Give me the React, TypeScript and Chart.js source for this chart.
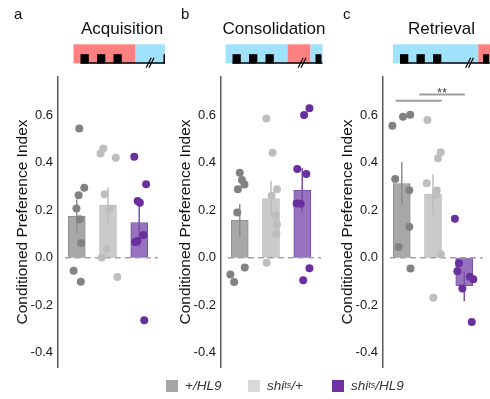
import React, { useEffect, useRef } from 'react';
import { Chart, registerables } from 'chart.js';

Chart.register(...registerables);

// ---------- data ----------
const groupNames = ['+/HL9', 'shits/+', 'shits/HL9'];
const yTickValues = [-0.4, -0.2, 0, 0.2, 0.4, 0.6];

// Acquisition
const acqMeans = [0.175, 0.22, 0.148];
const acqSem = [0.07, 0.075, 0.1];
const acqG1 = [0.543, 0.294, 0.263, 0.207, 0.162, 0.062, -0.055, -0.101];
const acqG1Jit = [0.08, 0.24, 0.06, -0.01, 0.1, 0.14, -0.1, 0.13];
const acqG2 = [0.459, 0.438, 0.42, 0.267, 0.206, 0.038, 0.001, -0.081];
const acqG2Jit = [-0.15, -0.24, 0.25, -0.11, 0.05, -0.04, -0.2, 0.3];
const acqG3 = [0.424, 0.309, 0.238, 0.231, 0.095, 0.07, 0.066, -0.263];
const acqG3Jit = [-0.16, 0.22, -0.05, 0.02, 0.13, -0.06, -0.13, 0.16];

// Consolidation
const conMeans = [0.158, 0.248, 0.284];
const conSem = [0.068, 0.075, 0.093];
const conG1 = [0.357, 0.327, 0.308, 0.288, 0.19, -0.041, -0.071, -0.102];
const conG1Jit = [0.0, 0.07, 0.15, -0.06, -0.08, 0.16, -0.3, -0.18];
const conG2 = [0.585, 0.441, 0.288, 0.26, 0.176, 0.141, 0.102, -0.021];
const conG2Jit = [-0.15, 0.05, 0.19, 0.02, 0.14, 0.19, 0.17, -0.14];
const conG3 = [0.629, 0.6, 0.373, 0.352, 0.228, 0.227, -0.045, -0.095];
const conG3Jit = [0.23, 0.06, -0.16, 0.13, -0.18, -0.05, 0.23, 0.03];

// Retrieval
const retMeans = [0.312, 0.267, -0.119];
const retSem = [0.09, 0.084, 0.063];
const retG1 = [0.601, 0.593, 0.555, 0.331, 0.284, 0.13, 0.045, -0.046];
const retG1Jit = [0.27, 0.04, -0.3, -0.21, 0.24, 0.24, -0.1, 0.28];
const retG2 = [0.579, 0.443, 0.418, 0.313, 0.283, 0.264, 0.014, -0.169];
const retG2Jit = [-0.18, 0.25, 0.16, -0.2, 0.12, 0.09, 0.25, 0.01];
const retG3 = [0.164, -0.024, -0.057, -0.08, -0.091, -0.13, -0.271];
const retG3Jit = [-0.3, -0.17, -0.22, 0.18, 0.29, -0.06, 0.24];

// significance brackets (retrieval)
const sigFrom = [-0.2, 0.56];
const sigTo = [1.28, 2.02];
const sigY = [0.66, 0.686];
const sigLabel = '**';
const sigLabelY = 0.703;

// ---------- styles ----------
const FONT = "'Liberation Sans', Arial, Helvetica, sans-serif";
const barFill = ['#a8a8a8', '#cacaca', '#9673bd'];
const barEdge = ['#8e8e8e', '#bcbcbc', '#7a4fab'];
const dotColor = ['#828282', '#bebebe', '#6a2f9f'];
const legendColor = ['#a6a6a6', '#d9d9d9', '#7030a0'];
const PINK = '#ff8080';
const BLUE = '#a0e2fc';

type Seg = [number, number, string];

const panels = [
  {
    left: 0, letter: 'a', letterX: 14, title: 'Acquisition', titleX: 122,
    segs: [[0, 62, PINK], [62, 97, BLUE]] as Seg[],
    means: acqMeans, sems: acqSem,
    pts: [[acqG1, acqG1Jit], [acqG2, acqG2Jit], [acqG3, acqG3Jit]],
    sig: false,
  },
  {
    left: 163, letter: 'b', letterX: 18, title: 'Consolidation', titleX: 111,
    segs: [[0, 62, BLUE], [62, 85, PINK], [85, 97, BLUE]] as Seg[],
    means: conMeans, sems: conSem,
    pts: [[conG1, conG1Jit], [conG2, conG2Jit], [conG3, conG3Jit]],
    sig: false,
  },
  {
    left: 325, letter: 'c', letterX: 18, title: 'Retrieval', titleX: 116.5,
    segs: [[0, 85.3, BLUE], [85.3, 97, PINK]] as Seg[],
    means: retMeans, sems: retSem,
    pts: [[retG1, retG1Jit], [retG2, retG2Jit], [retG3, retG3Jit]],
    sig: true,
  },
];

type PanelT = typeof panels[number];

function makePlugin(p: PanelT) {
  return {
    id: 'deco' + p.letter,
    afterDatasetDraw(chart: any, args: any) {
      if (args.index !== 0) return;
      const { ctx, chartArea } = chart;
      const xs = chart.scales.x;
      const ys = chart.scales.y;
      ctx.save();
      // error bars
      p.means.forEach((m: number, i: number) => {
        const px = xs.getPixelForValue(i);
        ctx.strokeStyle = barEdge[i];
        ctx.lineWidth = 1.5;
        ctx.beginPath();
        ctx.moveTo(px, ys.getPixelForValue(m - p.sems[i]));
        ctx.lineTo(px, ys.getPixelForValue(m + p.sems[i]));
        ctx.stroke();
      });
      // zero line
      const y0 = ys.getPixelForValue(0);
      ctx.strokeStyle = '#a3a3a3';
      ctx.lineWidth = 1.5;
      ctx.setLineDash([6, 4]);
      ctx.beginPath();
      ctx.moveTo(xs.getPixelForValue(-0.38), y0);
      ctx.lineTo(chartArea.right, y0);
      ctx.stroke();
      ctx.restore();
    },
    afterDraw(chart: any) {
      const { ctx } = chart;
      const xs = chart.scales.x;
      const ys = chart.scales.y;
      ctx.save();
      ctx.fillStyle = '#111';
      ctx.textBaseline = 'alphabetic';
      ctx.textAlign = 'left';
      ctx.font = `15px ${FONT}`;
      ctx.fillText(p.letter, p.letterX, 19);
      ctx.textAlign = 'center';
      ctx.font = `17px ${FONT}`;
      ctx.fillText(p.title, p.titleX, 34);
      // schematic
      const L = p.titleX - 48.5;
      const T = 44.3;
      const H = 19;
      p.segs.forEach(([a, b, c]) => {
        ctx.fillStyle = c;
        ctx.fillRect(L + a, T, b - a, H);
      });
      ctx.fillStyle = '#000';
      [[7, 8.3], [23.5, 8.3], [40, 8.3], [90, 6]].forEach(([o, w]) => {
        ctx.fillRect(L + o, 54.2, w, 9.3);
      });
      ctx.strokeStyle = '#000';
      ctx.lineWidth = 1.4;
      ctx.beginPath();
      ctx.moveTo(L + 7, 63);
      ctx.lineTo(L + 97, 63);
      ctx.stroke();
      ctx.lineWidth = 1.2;
      ctx.beginPath();
      ctx.moveTo(L + 72.7, 67.7);
      ctx.lineTo(L + 77.7, 57.7);
      ctx.moveTo(L + 75.5, 67.7);
      ctx.lineTo(L + 80.5, 57.7);
      ctx.stroke();
      // significance
      if (p.sig) {
        ctx.strokeStyle = '#9e9e9e';
        ctx.lineWidth = 2;
        sigFrom.forEach((x1, i) => {
          const py = ys.getPixelForValue(sigY[i]);
          ctx.beginPath();
          ctx.moveTo(xs.getPixelForValue(x1), py);
          ctx.lineTo(xs.getPixelForValue(sigTo[i]), py);
          ctx.stroke();
        });
        ctx.fillStyle = '#444';
        ctx.font = `13px ${FONT}`;
        ctx.textAlign = 'center';
        ctx.textBaseline = 'alphabetic';
        ctx.fillText(sigLabel, xs.getPixelForValue((sigFrom[1] + sigTo[1]) / 2), ys.getPixelForValue(sigLabelY) + 6);
      }
      ctx.restore();
    },
  };
}

function Panel({ p }: { p: PanelT }) {
  const ref = useRef<HTMLCanvasElement>(null);
  useEffect(() => {
    const datasets: any[] = [
      {
        type: 'bar',
        label: 'mean',
        data: p.means.map((m, i) => ({ x: i, y: m })),
        backgroundColor: barFill,
        borderColor: barEdge,
        borderWidth: 1,
        barThickness: 17,
        order: 2,
      },
    ];
    p.pts.forEach(([vals, jit], g) => {
      datasets.push({
        type: 'scatter',
        label: groupNames[g],
        data: (vals as number[]).map((v, k) => ({ x: g + (jit as number[])[k], y: v })),
        backgroundColor: dotColor[g],
        borderWidth: 0,
        pointRadius: 4,
        order: 1,
      });
    });
    const chart = new Chart(ref.current!, {
      type: 'bar',
      data: { datasets },
      options: {
        animation: false,
        responsive: false,
        devicePixelRatio: 1,
        layout: { padding: { top: 77, bottom: 32, right: 7, left: 0 } },
        plugins: { legend: { display: false }, tooltip: { enabled: false } },
        scales: {
          x: {
            type: 'linear',
            min: -0.6,
            max: 2.6,
            offset: false,
            display: false,
          },
          y: {
            type: 'linear',
            min: -0.46,
            max: 0.76,
            grid: { display: false, drawTicks: false },
            border: { display: true, color: '#5a5a5a', width: 1.5 },
            afterBuildTicks: (s: any) => {
              s.ticks = yTickValues.map((v) => ({ value: v }));
            },
            afterFit: (s: any) => {
              s.width = 58;
            },
            ticks: {
              padding: 5,
              color: '#1a1a1a',
              font: { family: FONT, size: 13 },
              callback: (v: any) => Number(v).toFixed(1),
            },
            title: {
              display: true,
              text: 'Conditioned Preference Index',
              color: '#111',
              font: { family: FONT, size: 15.5 },
              padding: { top: 13.7, bottom: 0 },
            },
          },
        },
      },
      plugins: [makePlugin(p)],
    } as any);
    return () => chart.destroy();
  }, []);
  return (
    <div style={{ position: 'absolute', left: p.left, top: 0, width: 165, height: 399 }}>
      <canvas ref={ref} width={165} height={399} style={{ display: 'block' }} />
    </div>
  );
}

function LegendLabel({ i }: { i: number }) {
  if (i === 0) return <i>+/HL9</i>;
  const rest = i === 1 ? '/+' : '/HL9';
  return (
    <i>
      shi<sup style={{ fontSize: '9px', verticalAlign: 'top', position: 'relative', top: '-1px' }}>ts</sup>
      {rest}
    </i>
  );
}

const legendLeft = [166, 248, 332];

export default function App() {
  return (
    <div style={{ position: 'absolute', left: 0, top: 0, width: 490, height: 399, background: '#fff', overflow: 'hidden', fontFamily: FONT }}>
      {panels.map((p) => (
        <Panel key={p.letter} p={p} />
      ))}
      {groupNames.map((n, i) => (
        <div key={n} style={{ position: 'absolute', left: legendLeft[i], top: 377, height: 18, display: 'flex', alignItems: 'center', whiteSpace: 'nowrap' }}>
          <div style={{ width: 12, height: 12, background: legendColor[i], marginRight: 7 }} />
          <span style={{ fontSize: '13.5px', color: '#333', lineHeight: '18px' }}>
            <LegendLabel i={i} />
          </span>
        </div>
      ))}
    </div>
  );
}
